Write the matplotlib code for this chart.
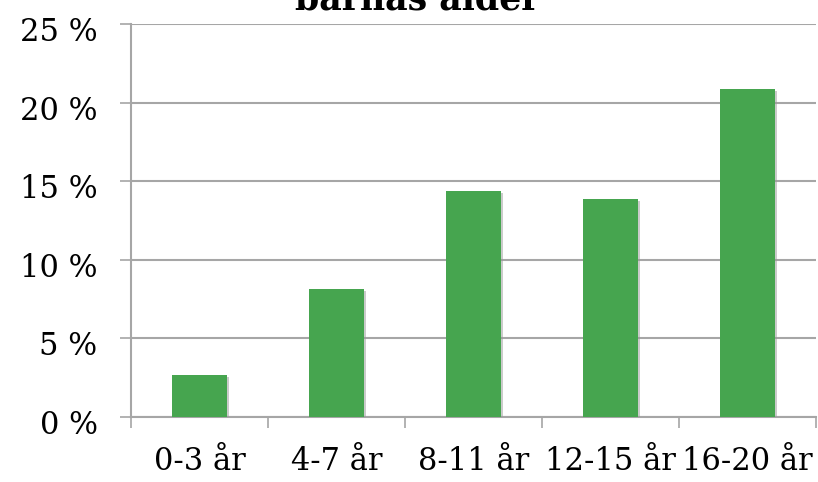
import matplotlib
matplotlib.use("Agg")
import matplotlib.pyplot as plt
import matplotlib.patheffects as pe
import matplotlib.transforms as mtrans
import numpy as np

categories = ["0-3 år", "4-7 år", "8-11 år", "12-15 år", "16-20 år"]
values = [2.7, 8.15, 14.4, 13.9, 20.9]
yticks = [0, 5, 10, 15, 20, 25]
ytick_labels = ["0 %", "5 %", "10 %", "15 %", "20 %", "25 %"]
title = "barnas alder"

plt.rcParams['font.family'] = ['DejaVu Serif']

fig = plt.figure(figsize=(8.18, 4.82), dpi=100)
ax = fig.add_axes([0.160, 0.1349, 0.8376, 0.8151])

x = np.arange(len(categories))
bars = ax.bar(x, values, width=0.4, color='#46A54F', zorder=3)
for b in bars:
    b.set_path_effects([pe.SimplePatchShadow(offset=(1.5, -1.5), shadow_rgbFace='#999999', alpha=0.5), pe.Normal()])

ax.set_xlim(-0.5, len(categories) - 0.5)
ax.set_ylim(0, 25)
ax.set_yticks(yticks)
ax.set_yticklabels(ytick_labels, fontsize=22)
ax.yaxis.grid(True, color='#A6A6A6', linewidth=1.5, zorder=0)
ax.tick_params(axis='y', length=8, width=1.2, color='#A6A6A6', pad=16)
offset = mtrans.ScaledTranslation(0, -5 / 100, fig.dpi_scale_trans)
for lbl in ax.get_yticklabels():
    lbl.set_transform(lbl.get_transform() + offset)

ax.set_xticks(np.arange(len(categories) + 1) - 0.5)
ax.set_xticklabels([])
ax.tick_params(axis='x', which='major', length=8, width=1.2, color='#A6A6A6')
ax.set_xticks(x, minor=True)
ax.set_xticklabels(categories, minor=True, fontsize=22)
ax.tick_params(axis='x', which='minor', length=0, pad=21)

for s in ['top', 'right']:
    ax.spines[s].set_visible(False)
for s in ['left', 'bottom']:
    ax.spines[s].set_color('#A6A6A6')
    ax.spines[s].set_linewidth(1.5)

fig.text(0.51, 0.966, title, ha='center', va='bottom', fontsize=25, fontweight='bold')

fig.savefig("out.png", dpi=100)
